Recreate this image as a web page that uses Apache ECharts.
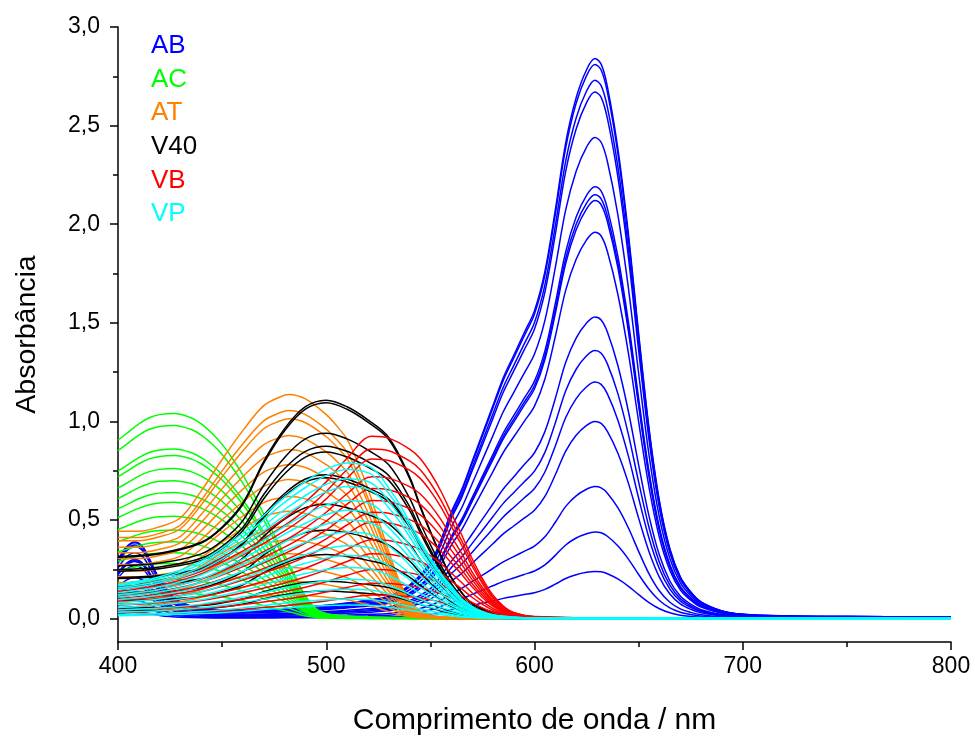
<!DOCTYPE html>
<html>
<head>
<meta charset="utf-8">
<script src="https://cdn.jsdelivr.net/npm/echarts@6/dist/echarts.min.js"></script>
<style>
html,body{margin:0;padding:0;background:#fff;}
#chart{width:975px;height:737px;}
</style>
</head>
<body>
<div id="chart"></div>
<script>
// ---- Data ----
// Normalised spectral shape of each dye (absorbance / peak absorbance) at the listed wavelengths
const AB_nm    = [400,404,408,412,416,420,425,430,440,450,460,470,480,490,500,510,520,530,540,550,555,560,565,570,575,580,585,590,595,600,605,610,615,620,625,629,632,635,640,645,650,655,660,665,670,675,680,690,700,720,750,800];
const AB_shape = [0.105,0.128,0.137,0.128,0.10,0.07,0.045,0.03,0.018,0.015,0.015,0.016,0.018,0.021,0.024,0.028,0.033,0.04,0.06,0.10,0.14,0.19,0.23,0.28,0.33,0.38,0.43,0.47,0.51,0.55,0.62,0.73,0.85,0.93,0.98,1.0,0.99,0.95,0.84,0.69,0.51,0.34,0.21,0.125,0.075,0.048,0.03,0.014,0.008,0.005,0.004,0.003];
const AC_nm    = [400,405,410,415,420,427,435,440,445,450,455,460,465,470,475,480,485,490,495,500,510,520,540,560,600,700,800];
const AC_shape = [0.87,0.91,0.95,0.98,0.995,1.0,0.98,0.95,0.905,0.85,0.78,0.70,0.61,0.51,0.41,0.31,0.21,0.11,0.05,0.025,0.013,0.008,0.005,0.003,0.002,0.002,0.002];
const AT_nm    = [400,410,420,430,440,450,460,470,478,482,490,500,505,510,515,520,525,530,535,540,545,550,560,580,650,800];
const AT_shape = [0.39,0.39,0.41,0.45,0.57,0.71,0.84,0.95,0.99,1.0,0.98,0.91,0.86,0.80,0.70,0.58,0.44,0.30,0.17,0.08,0.035,0.015,0.006,0.003,0.002,0.002];
const V40_nm    = [400,420,440,450,460,470,480,490,500,510,520,530,540,545,550,555,560,565,570,580,590,600,650,800];
const V40_shape = [0.285,0.30,0.35,0.42,0.53,0.72,0.87,0.97,1.0,0.97,0.91,0.83,0.65,0.52,0.40,0.29,0.19,0.12,0.07,0.03,0.012,0.006,0.003,0.002];
const VB_nm    = [400,420,440,460,480,490,500,510,522,530,540,545,550,555,560,565,570,575,580,585,590,600,650,800];
const VB_shape = [0.17,0.21,0.28,0.40,0.55,0.64,0.75,0.88,1.0,0.99,0.93,0.88,0.80,0.70,0.58,0.46,0.33,0.22,0.13,0.07,0.035,0.012,0.003,0.002];
const VP_nm    = [400,420,440,460,480,490,500,510,520,525,530,535,540,545,550,555,560,565,570,575,580,590,600,650,800];
const VP_shape = [0.22,0.27,0.37,0.55,0.78,0.88,0.96,1.0,0.98,0.93,0.84,0.74,0.62,0.50,0.39,0.29,0.21,0.13,0.08,0.045,0.025,0.01,0.005,0.003,0.002];

// Peak absorbance of every measured solution (one curve each)
const AB_peaks  = [2.84,2.81,2.73,2.67,2.44,2.19,2.15,2.12,1.96,1.53,1.36,1.20,1.00,0.67,0.44,0.24];
const AC_peaks  = [1.04,0.98,0.86,0.827,0.761,0.70,0.64,0.59,0.52,0.45,0.39,0.335,0.28,0.20,0.13];
const AT_peaks  = [1.137,1.056,1.014,0.929,0.858,0.782,0.706,0.62,0.545,0.47,0.40,0.33,0.26,0.19,0.12];
const V40_peaks = [1.108,1.095,0.94,0.875,0.845,0.73,0.715,0.58,0.45,0.325,0.19,0.14];
const VB_peaks  = [0.925,0.86,0.81,0.72,0.66,0.60,0.54,0.49,0.40,0.33,0.25,0.18,0.12];
const VP_peaks  = [0.79,0.756,0.71,0.67,0.60,0.55,0.50,0.44,0.37,0.32,0.26,0.20,0.15,0.10,0.07];

const dyeNames  = ['AB','AC','AT','V40','VB','VP'];
const dyeColors = ['#0000ff','#00ff00','#ff8000','#000000','#ff0000','#00ffff'];

const yMajorTicks = [0,0.5,1.0,1.5,2.0,2.5,3.0];
const yMinorTicks = [0.25,0.75,1.25,1.75,2.25,2.75];

// ---- Build series (Beer-Lambert: curve = shape x peak) ----
const families = [
  [AB_nm, AB_shape, AB_peaks],
  [AC_nm, AC_shape, AC_peaks],
  [AT_nm, AT_shape, AT_peaks],
  [V40_nm, V40_shape, V40_peaks],
  [VB_nm, VB_shape, VB_peaks],
  [VP_nm, VP_shape, VP_peaks]
];
const series = [];
families.forEach((f, k) => {
  const [nm, shape, peaks] = f;
  peaks.forEach(p => {
    series.push({
      name: dyeNames[k],
      type: 'line',
      data: nm.map((x, i) => [x, shape[i] * p]),
      showSymbol: false,
      smooth: 0.35,
      color: dyeColors[k],
      lineStyle: { width: 1.5, color: dyeColors[k] },
      silent: true,
      animation: false
    });
  });
});

const FONT = 'Arial, "Liberation Sans", sans-serif';
const fmt = v => v.toFixed(1).replace('.', ',');

const chart = echarts.init(document.getElementById('chart'), null, { renderer: 'canvas' });
chart.setOption({
  backgroundColor: '#ffffff',
  animation: false,
  grid: { left: 118, right: 24, top: 27, bottom: 95, containLabel: false, outerBoundsMode: 'none' },
  legend: {
    orient: 'vertical',
    left: 141,
    top: 28,
    selectedMode: false,
    itemWidth: 0,
    itemHeight: 0,
    itemGap: 7.6,
    data: dyeNames.map((n, i) => ({ name: n, icon: 'rect', textStyle: { color: dyeColors[i] } })),
    textStyle: { fontFamily: FONT, fontSize: 26, lineHeight: 25.5 }
  },
  xAxis: {
    type: 'value',
    min: 400, max: 800, interval: 100,
    name: 'Comprimento de onda / nm',
    nameLocation: 'middle',
    nameGap: 64,
    nameTextStyle: { fontFamily: FONT, fontSize: 30, color: '#000' },
    axisLine: { show: true, onZero: false, lineStyle: { color: '#000', width: 1.5 } },
    axisTick: { show: true, inside: false, length: 8, lineStyle: { color: '#000', width: 1.5 } },
    minorTick: { show: true, splitNumber: 2, length: 5, lineStyle: { color: '#000', width: 1.5 } },
    axisLabel: { fontFamily: FONT, fontSize: 23, color: '#000', margin: 13 },
    splitLine: { show: false }
  },
  yAxis: [{
    type: 'value',
    min: -0.118, max: 3.0,
    name: 'Absorbância',
    nameLocation: 'middle',
    nameGap: 76,
    nameRotate: 90,
    nameTextStyle: { fontFamily: FONT, fontSize: 28.5, color: '#000' },
    axisLine: { show: true, onZero: false, lineStyle: { color: '#000', width: 1.5 } },
    axisTick: { show: true, inside: false, length: 8, customValues: yMajorTicks, lineStyle: { color: '#000', width: 1.5 } },
    axisLabel: { fontFamily: FONT, fontSize: 23, color: '#000', margin: 18, customValues: yMajorTicks, formatter: fmt },
    splitLine: { show: false }
  }, {
    type: 'value',
    position: 'left',
    min: -0.118, max: 3.0,
    axisLine: { show: false },
    axisTick: { show: true, inside: false, length: 5, customValues: yMinorTicks, lineStyle: { color: '#000', width: 1.5 } },
    axisLabel: { show: false, customValues: yMinorTicks },
    splitLine: { show: false }
  }],
  series: series
});
</script>
</body>
</html>
